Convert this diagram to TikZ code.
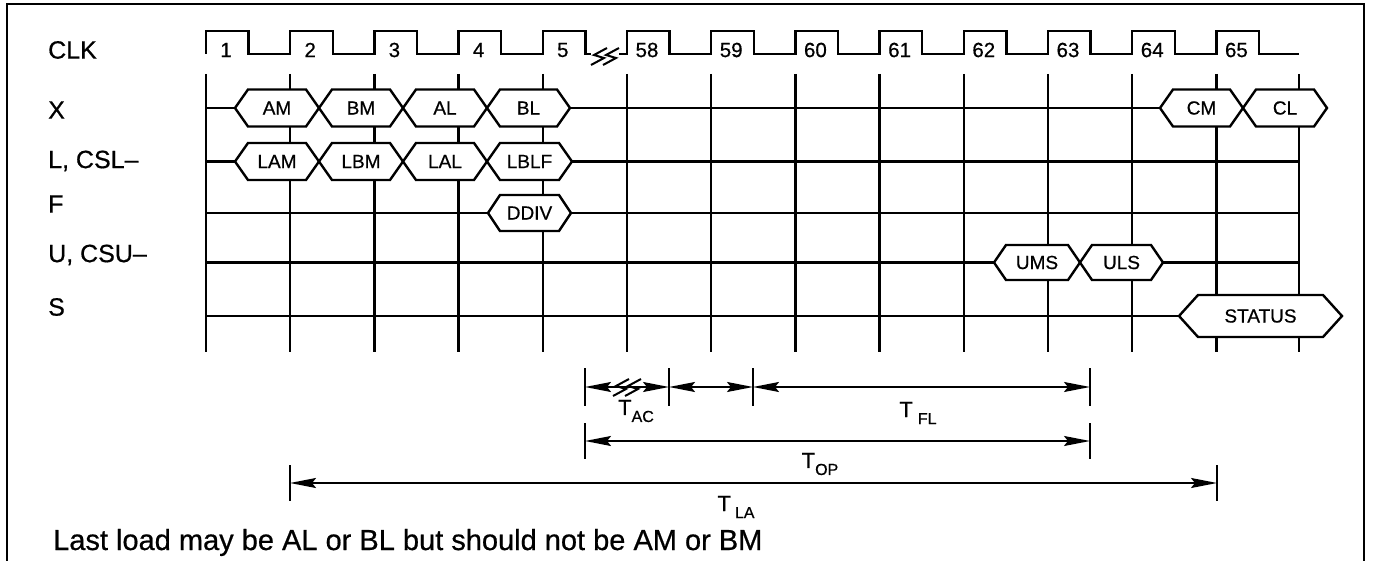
\documentclass[tikz,border=0pt]{standalone}
\usepackage{fontspec}
\setmainfont{Liberation Sans}[FakeBold=0.6]
\usetikzlibrary{arrows.meta}
\definecolor{tinta}{HTML}{000000}
\tikzset{
  linea/.style={draw=tinta, line width=2.4pt},
  onda/.style={draw=tinta, line width=2.4pt, line join=miter},
  hexa/.style={draw=tinta, fill=white, line width=2.4pt, line join=miter},
  fila/.style={anchor=west, inner sep=0pt, font=\fontsize{25}{25}\selectfont},
  ciclo/.style={inner sep=0pt, font=\fontsize{20.5}{20.5}\selectfont},
  dato/.style={inner sep=0pt, font=\fontsize{19}{19}\selectfont},
  cota/.style={draw=tinta, line width=2.4pt},
  flecha/.style={{Stealth[length=26pt,width=10pt,inset=4pt]}-{Stealth[length=26pt,width=10pt,inset=4pt]},
    line width=2pt, tinta},
  tiempo/.style={inner sep=0pt, font=\fontsize{22}{22}\selectfont},
  nota/.style={anchor=base west, inner sep=0pt, font=\fontsize{29}{29}\selectfont}
}
% bus: nombre, x izq, x der, y, media altura, bisel, texto
\newcommand{\bus}[7]{%
  \draw[hexa] (#2,#4) -- (#2+#6,#4-#5) -- (#3-#6,#4-#5) -- (#3,#4)
    -- (#3-#6,#4+#5) -- (#2+#6,#4+#5) -- cycle;
  \node[dato] (#1) at ({(#2+#3)/2},#4) {#7};}
% marca de corte
\newcommand{\corte}[2]{%
  \foreach \d in {-7,5}{
    \draw[tinta, line width=2pt, line join=miter] (#1+\d+9,#2-8) -- (#1+\d-4,#2-1)
      -- (#1+\d+6,#2+2) -- (#1+\d-7,#2+9);}}
\newcommand{\tcota}[2]{T\hspace{#1}\raisebox{-7pt}{\fontsize{16}{16}\selectfont #2}}

\begin{document}
\begin{tikzpicture}[x=1pt, y=-1pt]
  \useasboundingbox (0,0) rectangle (1373,561);

  % --- Marco ---
  \draw[linea] (7,561) -- (7,4) -- (1364,4) -- (1364,561);

  % --- Reloj ---
  \draw[onda] (206,54) \foreach \k in {0,...,4}{
    -- ({206+84.2*\k},54) -- ++(0,-23) -- ++(42.5,0) -- ++(0,23)} -- (591,54);
  \draw[onda] (619,54) \foreach \k in {5,...,12}{
    -- ({206+84.2*\k},54) -- ++(0,-23) -- ++(42.5,0) -- ++(0,23)} -- (1299,54);
  \corte{605}{56}
  \foreach \k/\n in {0/1,1/2,2/3,3/4,4/5,5/58,6/59,7/60,8/61,9/62,10/63,11/64,12/65}
    \node[ciclo] (c\n) at ({206+84.2*\k+20},50) {\n};

  % --- Rejilla ---
  \foreach \k in {0,...,12}
    \draw[linea] ({206+84.2*\k},74) -- ({206+84.2*\k},352);
  \draw[linea] (1299,74) -- (1299,352);
  \foreach \y in {108,161.5,213,262.5,316}
    \draw[linea] (206,\y) -- (1299,\y);

  % --- Senales ---
  \node[fila] (lclk) at (48,50) {CLK};
  \node[fila] (lx) at (48,110) {X};
  \node[fila] (ll) at (48,161) {L, CSL–};
  \node[fila] (lf) at (48,204) {F};
  \node[fila] (lu) at (48,255) {U, CSU–};
  \node[fila] (ls) at (48,307) {S};

  \bus{am}{235}{319}{108}{18.5}{13}{AM}
  \bus{bm}{319}{403}{108}{18.5}{13}{BM}
  \bus{al}{403}{487}{108}{18.5}{13}{AL}
  \bus{bl}{487}{570}{108}{18.5}{13}{BL}
  \bus{cm}{1160}{1243}{108}{18.5}{13}{CM}
  \bus{cl}{1243}{1327}{108}{18.5}{13}{CL}

  \bus{lam}{235}{319}{161.5}{18.5}{13}{LAM}
  \bus{lbm}{319}{403}{161.5}{18.5}{13}{LBM}
  \bus{lal}{403}{487}{161.5}{18.5}{13}{LAL}
  \bus{lblf}{487}{572}{161.5}{18.5}{13}{LBLF}

  \bus{ddiv}{488}{571}{213}{18}{12}{DDIV}

  \bus{ums}{994}{1080}{262.5}{17.5}{12}{UMS}
  \bus{uls}{1080}{1163}{262.5}{17.5}{12}{ULS}

  \bus{status}{1179}{1342}{316}{21}{19}{STATUS}

  % --- Tiempos ---
  \coordinate (a1) at (585,387);
  \coordinate (a2) at (669,387);
  \coordinate (a3) at (753,387);
  \coordinate (a4) at (1090,387);
  \coordinate (b1) at (585,441);
  \coordinate (b2) at (1090,441);
  \coordinate (c1) at (290,483);
  \coordinate (c2) at (1217,483);
  \foreach \p in {a1,a2,a3,a4}
    \draw[cota] ([yshift=19pt]\p) -- ([yshift=-19pt]\p);
  \foreach \p in {b1,b2,c1,c2}
    \draw[cota] ([yshift=18pt]\p) -- ([yshift=-18pt]\p);

  \draw[flecha] (a1) -- (a2);
  \draw[flecha] (a2) -- (a3);
  \draw[flecha] (a3) -- (a4);
  \draw[flecha] (b1) -- (b2);
  \draw[flecha] (c1) -- (c2);
  \corte{627}{387}

  \node[tiempo] (tac) at (636,411) {\tcota{0pt}{AC}};
  \node[tiempo] (tfl) at (918,413) {\tcota{5pt}{FL}};
  \node[tiempo] (top) at (820,464) {\tcota{0pt}{OP}};
  \node[tiempo] (tla) at (736,507) {\tcota{4pt}{LA}};

  % --- Nota ---
  \node[nota] (nota) at (53,550) {Last load may be AL or BL but should not be AM or BM};
\end{tikzpicture}
\end{document}
